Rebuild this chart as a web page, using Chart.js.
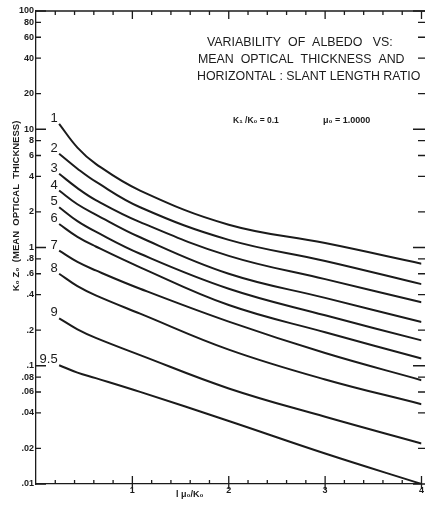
<!DOCTYPE html>
<html>
<head>
<meta charset="utf-8">
<script src="https://cdn.jsdelivr.net/npm/chart.js@4.4.0/dist/chart.umd.min.js"></script>
<style>
  html, body { margin: 0; padding: 0; background: #fff; }
  canvas { display: block; }
</style>
</head>
<body>
<canvas id="albedoChart" width="425" height="508"></canvas>
<script>
// horizontal : slant length ratio (l mu0 / K0) where each curve is sampled
const slantRatio = [0.24, 0.43, 0.62, 1.08, 2, 3, 4];

// mean optical thickness K0 Z0 along each albedo curve
const albedo1  = [11.1, 7.0, 5.1, 3.03, 1.56, 1.09, 0.73];
const albedo2  = [6.2, 4.64, 3.6, 2.19, 1.16, 0.77, 0.49];
const albedo3  = [4.2, 3.18, 2.52, 1.64, 0.85, 0.54, 0.345];
const albedo4  = [3.03, 2.32, 1.9, 1.22, 0.6, 0.375, 0.234];
const albedo5  = [2.19, 1.67, 1.36, 0.885, 0.448, 0.267, 0.164];
const albedo6  = [1.58, 1.23, 1.02, 0.68, 0.326, 0.192, 0.115];
const albedo7  = [0.94, 0.755, 0.64, 0.448, 0.236, 0.128, 0.0755];
const albedo8  = [0.6, 0.471, 0.394, 0.276, 0.137, 0.0766, 0.0473];
const albedo9  = [0.252, 0.203, 0.172, 0.123, 0.0643, 0.037, 0.022];
const albedo95 = [0.101, 0.0875, 0.0786, 0.0601, 0.0341, 0.0181, 0.0100];

const curveLabels = ['1', '2', '3', '4', '5', '6', '7', '8', '9', '9.5'];
const curves = [albedo1, albedo2, albedo3, albedo4, albedo5, albedo6, albedo7, albedo8, albedo9, albedo95];

// log axis ticks and how they are printed
const yTicks = [0.01, 0.02, 0.04, 0.06, 0.08, 0.1, 0.2, 0.4, 0.6, 0.8, 1, 2, 4, 6, 8, 10, 20, 40, 60, 80, 100];
const yTickLabels = ['.01', '.02', '.04', '.06', '.08', '.1', '.2', '.4', '.6', '.8', '1', '2', '4', '6', '8', '10', '20', '40', '60', '80', '100'];

const titleLines = ['VARIABILITY  OF  ALBEDO   VS:', 'MEAN  OPTICAL  THICKNESS  AND', 'HORIZONTAL : SLANT LENGTH RATIO'];

const ink = '#1b1b1b';
const sans = '"Liberation Sans", Arial, sans-serif';

function isWhole(v) { return Math.abs(v - Math.round(v)) < 1e-6; }
function isDecade(v) { const l = Math.log10(v); return Math.abs(l - Math.round(l)) < 1e-6; }

var datasets = [];
for (let i = 0; i < curves.length; i++) {
    datasets.push({
        label: curveLabels[i],
        data: slantRatio.map((x, j) => ({x: x, y: curves[i][j]})),
        borderColor: ink,
        borderWidth: 2,
        pointRadius: 0,
        fill: false,
        tension: 0.4
    });
}

// frame, inward tick marks, curve numbers and the annotation text
const decorations = {
    id: 'decorations',
    afterDraw(chart) {
        const ctx = chart.ctx;
        const xs = chart.scales.x, ys = chart.scales.y;
        const a = chart.chartArea;
        ctx.save();
        ctx.strokeStyle = ink;
        ctx.lineWidth = 1.3;

        // top frame line
        ctx.beginPath();
        ctx.moveTo(a.left, a.top);
        ctx.lineTo(chart.width, a.top);
        ctx.stroke();

        ctx.beginPath();
        xs.ticks.forEach(t => {
            const px = xs.getPixelForValue(t.value);
            if (t.value <= 0) return;
            const major = isWhole(t.value);
            // bottom
            ctx.moveTo(px, a.bottom + (major ? 5 : 0));
            ctx.lineTo(px, a.bottom - (major ? 8 : 4));
            // top
            ctx.moveTo(px, a.top);
            ctx.lineTo(px, a.top + (major ? 8 : 4));
        });
        yTicks.forEach(v => {
            const py = ys.getPixelForValue(v);
            const len = isDecade(v) ? 10 : 5;
            ctx.moveTo(a.left, py);
            ctx.lineTo(a.left + len, py);
            ctx.moveTo(chart.width, py);
            ctx.lineTo(chart.width - len - 2, py);
        });
        ctx.stroke();

        // curve numbers at the start of each line
        ctx.fillStyle = ink;
        ctx.font = '13px ' + sans;
        ctx.textAlign = 'right';
        ctx.textBaseline = 'alphabetic';
        chart.data.datasets.forEach((ds, i) => {
            const p = chart.getDatasetMeta(i).data[0];
            ctx.fillText(ds.label, p.x - 1.5, p.y - 2);
        });

        // title block
        ctx.textAlign = 'left';
        ctx.font = '12.4px ' + sans;
        ctx.fillText(titleLines[0], 207, 46);
        ctx.fillText(titleLines[1], 198, 63);
        ctx.fillText(titleLines[2], 197, 80);

        ctx.font = 'bold 8.5px ' + sans;
        ctx.fillText('K\u2081 /K\u2080 = 0.1', 233, 123);
        ctx.font = 'bold 9px ' + sans;
        ctx.fillText('\u03BC\u2080 = 1.0000', 323, 123);

        // axis titles
        ctx.font = 'bold 9px ' + sans;
        ctx.fillText('l \u03BC\u2080/K\u2080', 176, 497);

        ctx.translate(19, 206);
        ctx.rotate(-Math.PI / 2);
        ctx.textAlign = 'center';
        ctx.font = 'bold 9.5px ' + sans;
        ctx.fillText('K\u2080 Z\u2080  (MEAN  OPTICAL  THICKNESS)', 0, 0);
        ctx.restore();
    }
};

var ctx = document.getElementById('albedoChart').getContext('2d');
var albedoChart = new Chart(ctx, {
    type: 'line',
    data: { datasets: datasets },
    options: {
        responsive: false,
        animation: false,
        layout: { padding: { top: 11, right: 2, left: 0, bottom: 0 } },
        plugins: { legend: { display: false }, tooltip: { enabled: false } },
        scales: {
            x: {
                type: 'linear',
                min: 0,
                max: 4,
                grid: { display: false, drawTicks: false, tickLength: 0 },
                border: { display: true, color: ink, width: 1.3 },
                ticks: {
                    stepSize: 0.2,
                    autoSkip: false,
                    maxRotation: 0,
                    padding: 1,
                    color: ink,
                    font: { family: sans, size: 9, weight: 'bold' },
                    callback: v => (isWhole(v) && v > 0) ? String(Math.round(v)) : ''
                },
                afterFit: s => { s.height = 24; }
            },
            y: {
                type: 'logarithmic',
                min: 0.01,
                max: 100,
                grid: { display: false, drawTicks: false, tickLength: 0 },
                border: { display: true, color: ink, width: 1.3 },
                afterBuildTicks: s => { s.ticks = yTicks.map(v => ({ value: v })); },
                ticks: {
                    autoSkip: false,
                    padding: 2,
                    color: ink,
                    font: { family: sans, size: 9, weight: 'bold' },
                    callback: v => { const i = yTicks.indexOf(v); return i >= 0 ? yTickLabels[i] : ''; }
                },
                afterFit: s => { s.width = 36; }
            }
        }
    },
    plugins: [decorations]
});
</script>
</body>
</html>
